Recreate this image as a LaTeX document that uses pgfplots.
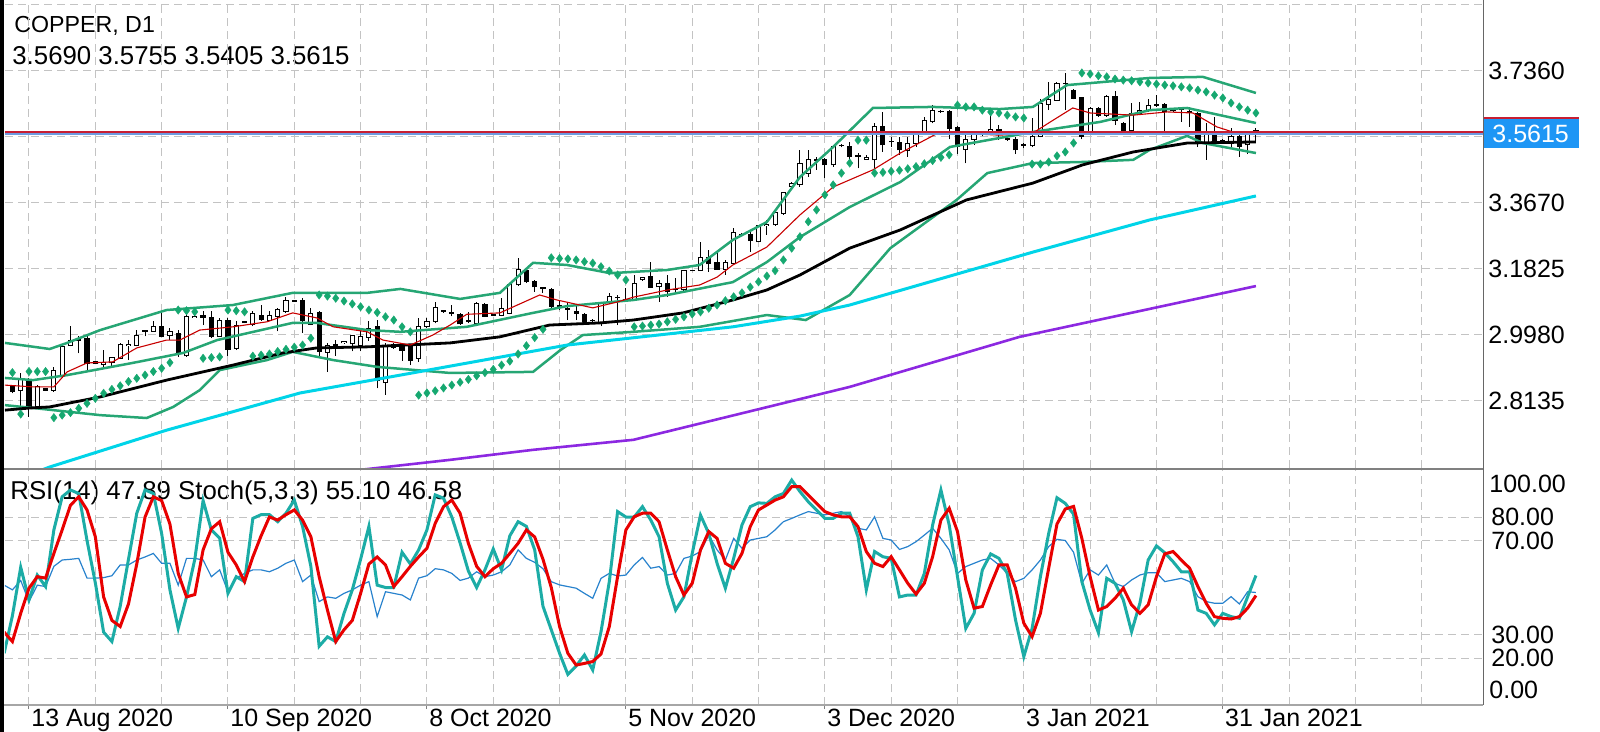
\documentclass[border=0pt]{standalone}
\usepackage{pgfplots}
\pgfplotsset{compat=1.18}
\usepackage{pgfplotstable}
\usepackage{fontspec}
\setmainfont{Liberation Sans}
\newcommand\lbl{\fontsize{12.5}{14}\selectfont}

\definecolor{bbgreen}{RGB}{38,166,116}
\definecolor{sargreen}{RGB}{22,168,112}
\definecolor{stochk}{RGB}{28,172,166}
\definecolor{stochd}{RGB}{232,0,0}
\definecolor{rsiblue}{RGB}{40,130,205}
\definecolor{macyan}{RGB}{0,212,232}
\definecolor{mapurple}{RGB}{140,40,225}
\definecolor{mared}{RGB}{200,0,0}
\definecolor{gridgray}{RGB}{195,195,195}
\definecolor{pricebox}{RGB}{30,150,245}
\definecolor{askred}{RGB}{200,30,50}
\definecolor{bidblue}{RGB}{110,155,225}

% daily candles, bar 0 = 13 Aug 2020
\pgfplotstableread{
i O H L C
-2 2.853 2.857 2.834 2.839
-1 2.843 2.890 2.797 2.876
0 2.871 2.876 2.769 2.792
1 2.792 2.856 2.790 2.853
2 2.848 2.850 2.840 2.842
3 2.843 2.909 2.839 2.899
4 2.881 2.969 2.876 2.965
5 2.969 3.021 2.965 2.983
6 2.988 2.993 2.946 2.983
7 2.988 2.993 2.899 2.918
8 2.923 2.925 2.915 2.918
9 2.915 2.955 2.909 2.920
10 2.920 2.937 2.909 2.934
11 2.932 2.975 2.930 2.971
12 2.967 2.983 2.927 2.970
13 2.969 3.011 2.965 2.997
14 3.008 3.011 2.993 3.010
15 3.008 3.035 3.007 3.021
16 3.021 3.058 2.991 2.994
17 2.997 3.016 2.983 3.008
18 3.002 3.011 2.937 2.946
19 2.939 3.053 2.937 3.050
20 3.047 3.053 3.045 3.050
21 3.051 3.063 3.025 3.047
22 3.047 3.063 2.988 2.993
23 2.994 3.044 2.993 3.039
24 3.037 3.044 2.939 2.957
25 2.960 3.035 2.955 3.025
26 3.032 3.037 3.030 3.034
27 3.027 3.063 3.021 3.058
28 3.053 3.081 3.037 3.041
29 3.039 3.063 3.035 3.053
30 3.050 3.072 3.007 3.069
31 3.063 3.104 3.058 3.095
32 3.093 3.095 3.090 3.092
33 3.093 3.100 3.004 3.037
34 3.027 3.072 3.025 3.058
35 3.060 3.063 2.937 2.951
36 2.949 2.974 2.895 2.969
37 2.969 2.983 2.939 2.971
38 2.975 2.981 2.972 2.978
39 2.972 2.997 2.951 2.997
40 2.969 3.007 2.951 2.994
41 2.991 3.035 2.981 3.016
42 3.021 3.039 2.848 2.871
43 2.864 2.974 2.830 2.969
44 2.971 2.974 2.958 2.963
45 2.969 2.974 2.925 2.955
46 2.965 2.969 2.913 2.927
47 2.932 3.044 2.921 3.021
48 3.021 3.044 3.016 3.035
49 3.035 3.090 3.030 3.075
50 3.063 3.068 3.060 3.065
51 3.060 3.081 3.049 3.057
52 3.055 3.058 3.025 3.028
53 3.038 3.062 3.030 3.036
54 3.028 3.090 3.021 3.086
55 3.083 3.086 3.047 3.050
56 3.052 3.057 3.049 3.054
57 3.053 3.100 3.049 3.072
58 3.058 3.140 3.055 3.137
59 3.137 3.212 3.134 3.179
60 3.177 3.180 3.142 3.146
61 3.146 3.151 3.118 3.132
62 3.129 3.132 3.114 3.127
63 3.123 3.128 3.072 3.077
64 3.081 3.095 3.067 3.075
65 3.069 3.086 3.039 3.070
66 3.064 3.077 3.039 3.058
67 3.055 3.060 3.032 3.035
68 3.037 3.041 3.030 3.038
69 3.028 3.090 3.022 3.086
70 3.088 3.114 3.084 3.104
71 3.103 3.109 3.025 3.102
72 3.097 3.128 3.090 3.095
73 3.097 3.165 3.095 3.142
74 3.151 3.160 3.149 3.158
75 3.160 3.202 3.128 3.131
76 3.132 3.151 3.090 3.142
77 3.142 3.165 3.104 3.118
78 3.125 3.156 3.114 3.124
79 3.123 3.179 3.118 3.177
80 3.177 3.180 3.175 3.178
81 3.177 3.258 3.176 3.214
82 3.214 3.235 3.174 3.196
83 3.200 3.235 3.179 3.181
84 3.181 3.207 3.165 3.200
85 3.198 3.295 3.196 3.284
86 3.277 3.281 3.274 3.278
87 3.279 3.286 3.230 3.261
88 3.258 3.305 3.256 3.302
89 3.303 3.319 3.277 3.307
90 3.305 3.342 3.303 3.339
91 3.337 3.398 3.333 3.395
92 3.412 3.425 3.409 3.421
93 3.417 3.515 3.412 3.477
94 3.449 3.515 3.440 3.487
95 3.487 3.496 3.459 3.484
96 3.487 3.491 3.435 3.473
97 3.473 3.529 3.468 3.524
98 3.526 3.531 3.522 3.528
99 3.524 3.538 3.473 3.496
100 3.497 3.505 3.463 3.498
101 3.489 3.501 3.487 3.494
102 3.487 3.589 3.449 3.580
103 3.580 3.622 3.510 3.529
104 3.538 3.552 3.524 3.537
105 3.535 3.552 3.501 3.515
106 3.513 3.552 3.496 3.533
107 3.533 3.566 3.524 3.559
108 3.559 3.608 3.557 3.598
109 3.594 3.640 3.589 3.626
110 3.621 3.625 3.619 3.622
111 3.622 3.626 3.544 3.575
112 3.577 3.582 3.503 3.524
113 3.517 3.561 3.477 3.544
114 3.544 3.566 3.529 3.563
115 3.557 3.568 3.555 3.566
116 3.563 3.612 3.561 3.572
117 3.573 3.584 3.543 3.557
118 3.545 3.550 3.540 3.546
119 3.544 3.550 3.503 3.515
120 3.527 3.533 3.519 3.529
121 3.526 3.603 3.522 3.552
122 3.552 3.656 3.550 3.645
123 3.643 3.706 3.626 3.656
124 3.654 3.706 3.653 3.701
125 3.700 3.729 3.626 3.701
126 3.680 3.684 3.656 3.659
127 3.662 3.664 3.544 3.552
128 3.561 3.636 3.559 3.631
129 3.631 3.636 3.608 3.612
130 3.612 3.668 3.608 3.664
131 3.664 3.680 3.584 3.598
132 3.589 3.594 3.557 3.561
133 3.569 3.645 3.566 3.617
134 3.617 3.650 3.612 3.626
135 3.626 3.656 3.622 3.638
136 3.640 3.668 3.636 3.641
137 3.643 3.645 3.561 3.622
138 3.626 3.630 3.622 3.627
139 3.628 3.631 3.594 3.627
140 3.622 3.636 3.580 3.619
141 3.617 3.622 3.524 3.538
142 3.533 3.589 3.487 3.566
143 3.566 3.608 3.530 3.533
144 3.540 3.545 3.536 3.538
145 3.533 3.575 3.519 3.552
146 3.552 3.561 3.496 3.524
147 3.529 3.557 3.503 3.560
148 3.5690 3.5755 3.5405 3.5615
}\candles

% parabolic SAR
\pgfplotstableread{
i sar
-2 2.892
-1 2.776
0 2.895
1 2.895
2 2.895
3 2.766
4 2.773
5 2.780
6 2.792
7 2.806
8 2.820
9 2.834
10 2.845
11 2.855
12 2.867
13 2.876
14 2.885
15 2.895
16 2.904
17 2.920
18 3.067
19 3.065
20 3.062
21 2.932
22 2.934
23 2.936
24 3.067
25 3.065
26 3.062
27 2.938
28 2.941
29 2.944
30 2.951
31 2.957
32 2.963
33 2.969
34 2.988
35 3.109
36 3.106
37 3.100
38 3.092
39 3.084
40 3.076
41 3.067
42 3.060
43 3.048
44 3.039
45 3.020
46 3.006
47 2.829
48 2.835
49 2.841
50 2.849
51 2.857
52 2.865
53 2.873
54 2.883
55 2.892
56 2.901
57 2.913
58 2.924
59 2.944
60 2.967
61 2.990
62 3.013
63 3.213
64 3.211
65 3.210
66 3.207
67 3.202
68 3.198
69 3.188
70 3.176
71 3.165
72 3.151
73 3.020
74 3.022
75 3.025
76 3.028
77 3.034
78 3.041
79 3.048
80 3.056
81 3.062
82 3.072
83 3.081
84 3.093
85 3.104
86 3.115
87 3.131
88 3.146
89 3.162
90 3.177
91 3.207
92 3.240
93 3.272
94 3.314
95 3.347
96 3.389
97 3.417
98 3.450
99 3.478
100 3.542
101 3.542
102 3.450
103 3.452
104 3.455
105 3.458
106 3.462
107 3.468
108 3.476
109 3.485
110 3.494
111 3.501
112 3.640
113 3.635
114 3.635
115 3.626
116 3.621
117 3.618
118 3.612
119 3.607
120 3.604
121 3.475
122 3.475
123 3.481
124 3.498
125 3.509
126 3.534
127 3.730
128 3.727
129 3.722
130 3.719
131 3.713
132 3.710
133 3.708
134 3.705
135 3.702
136 3.699
137 3.696
138 3.694
139 3.691
140 3.688
141 3.682
142 3.677
143 3.668
144 3.660
145 3.646
146 3.635
147 3.626
148 3.618
}\sar

% RSI(14) and Stoch(5,3,3) %K, %D
\pgfplotstableread{
i K D RSI
-3 22 31 51
-2 38 27 49
-1 58.6 39 53
0 44.7 49.7 44
1 55.3 54.6 51
2 50.4 54 50.4
3 74.5 64.5 59
4 88.6 74.5 61.7
5 91.5 85 62
6 90 88.6 62.4
7 70 83 54
8 52 71.6 54
9 31 46 54.2
10 27 36 55
11 42 33.4 59.6
12 62 43 59.6
13 81.6 60 61.7
14 91.5 80 63
15 90 88.6 64.5
16 73 87 60.3
17 49 77 60.3
18 32.6 56 51
19 46 46 62.4
20 62 47 62.4
21 87 66 61.7
22 74.5 75 54.6
23 71 78 57.5
24 47.5 65 48.2
25 54.6 59.6 54
26 52.5 52.5 56
27 79.4 63 57.5
28 81 72 57.5
29 81 80 56.7
30 78 78.7 58.2
31 81.6 81 60.3
32 87.2 83 61.7
33 76 78.7 52.5
34 59 71.6 55.3
35 25 54.6 44
36 29 40.4 46
37 27 27 45.4
38 39 32 47.5
39 49 36 49
40 62 47.5 51
41 76 60 52.5
42 51 63 37.6
43 50 59.6 48.2
44 50 50.4 47.5
45 65 54.6 46.8
46 60 59 44.7
47 66 63 54
48 74.5 66.7 55
49 89.4 77.3 58
50 88 84.4 57.5
51 80 87.2 56
52 69 81.6 53
53 57 68.8 54
54 50 59 56.7
55 57.5 54.6 54.6
56 66.4 58 55.3
57 57.5 60.3 56.7
58 72 64.5 59.6
59 78 68.8 66
60 76 74.5 62.4
61 66 71.5 60.7
62 42 62 58
63 32 50 52.5
64 22 33.4 51.1
65 13 22 50.4
66 16.6 17 49.7
67 21.3 17.7 47.5
68 14.9 18.5 45.4
69 31.2 21.7 53.9
70 52.5 33.4 56
71 82.3 54.6 54.9
72 80 74.5 55.3
73 80 80.1 59.6
74 84.4 81.6 62.8
75 78.7 81.6 58.2
76 71.6 78 58.9
77 51.8 66 55.3
78 40.4 54.6 56
79 46 46.8 62.4
80 64.5 51.8 63.4
81 80.8 66 65.3
82 73 73.8 72.3
83 60.3 70.9 66
84 49.7 60.3 61.7
85 62.4 58.2 70.9
86 76.6 64.5 66.7
87 84.4 75.9 70.2
88 86 83 70.9
89 85.8 85.1 71.6
90 88.6 87.2 74.5
91 90 88.6 78
92 95.7 92.9 79.4
93 90.8 92.9 80.9
94 86.5 89.4 82.3
95 83 85.8 81.6
96 79.4 82.3 80.9
97 79.4 80.9 81.6
98 81.6 80.1 82.3
99 81.6 80.1 80.1
100 71.6 75.9 75.2
101 49 65.3 74.5
102 65.3 60.3 80.1
103 63.1 58.9 70.9
104 62.4 63.1 70.2
105 46 57.5 66.2
106 46.8 51.8 67.4
107 46.8 47.2 69.5
108 56 51.8 72.3
109 76.6 63.1 75.2
110 91.5 78.7 70.9
111 76.6 83.7 66
112 54.6 73.8 56
113 32.6 53.2 58.9
114 39 41.2 60.3
115 57.5 41.9 61.7
116 64.3 51.1 62.4
117 62.4 59.6 59.6
118 56 59.6 56
119 36.2 49.7 52.5
120 20.6 34.8 53.9
121 32.6 29.1 57.5
122 54.6 39 61.7
123 73 58.2 67.4
124 88.2 77 70.5
125 85.8 83.4 70
126 81.2 84.5 65
127 52.5 70.9 51.8
128 40.4 54.6 57.5
129 30.8 40.4 55.3
130 53.9 41.9 59.6
131 51.8 45.4 51.8
132 44.7 49.7 50.4
133 31.2 42.6 53.2
134 43.3 39 55.3
135 61.7 42.6 56.3
136 67.7 54.6 56.3
137 64.8 64.3 52.5
138 61 65.3 53.2
139 56.7 61.7 53.9
140 56.7 58.2 52.5
141 40.4 50.4 46.1
142 39 43.3 44
143 34.1 37.6 43.3
144 39 36.9 43.3
145 37.6 36.6 46.1
146 36.9 37.6 43
147 46.1 41.2 48.2
148 55.10 46.58 47.89
}\osc

\pgfplotsset{
  candle part/.style 2 args={forget plot, draw=none, mark=none,
    error bars/.cd, y dir=plus, y explicit, error mark=none,
    error bar style={draw=#1, solid, line width=#2}},
}

\begin{document}
\begin{tikzpicture}

% titles (drawn first, lines go over them)
\begin{scope}[x=0.5pt,y=-0.5pt]
\node[anchor=base west, inner sep=0pt, font=\fontsize{11.6}{14}\selectfont] at (14,33) {COPPER, D1};
\node[anchor=base west, inner sep=0pt, font=\fontsize{12.9}{14}\selectfont] at (12,65) {3.5690 3.5755 3.5405 3.5615};
\node[anchor=base west, inner sep=0pt, font=\fontsize{12.9}{14}\selectfont] at (10,499) {RSI(14) 47.89 Stoch(5,3,3) 55.10 46.58};
\end{scope}

% ---------- price panel ----------
\begin{axis}[
  at={(2.5pt,0pt)}, anchor=north west,
  scale only axis, width=739pt, height=234pt,
  xmin=-2.895, xmax=175.39, ymin=2.6252, ymax=3.934,
  axis line style={draw=none},
  xtick={0,8,...,168}, xticklabels={},
  ytick={2.8135,2.998,3.1825,3.367,3.5515,3.736,3.9205},
  yticklabels={2.8135,2.9980,3.1825,3.3670,{},3.7360,{}},
  scaled y ticks=false,
  ytick pos=right, yticklabel pos=right,
  major tick length=0pt,
  grid=major,
  grid style={gridgray, line width=0.5pt, dash pattern=on 4pt off 2.5pt},
  yticklabel style={anchor=west, inner sep=0pt, xshift=2.5pt},
  tick label style={font=\lbl},
]
% wicks
\addplot [candle part={black}{0.5pt}]
  table [x=i, y=L, y error plus expr=\thisrow{H}-\thisrow{L}] \candles;
% bodies: black outline
\addplot [candle part={black}{2.6pt}]
  table [x=i, y expr={min(\thisrow{O},\thisrow{C})-0.0014},
         y error plus expr={abs(\thisrow{C}-\thisrow{O})+0.0028}] \candles;
% bodies: white fill for rising days
\addplot [candle part={white}{1.6pt}]
  table [x=i, y expr={\thisrow{O}+0.0014},
         y error plus expr={max(0,\thisrow{C}-\thisrow{O}-0.0028)}] \candles;

% Bollinger bands
\addplot [bbgreen, line width=1.25pt] coordinates {
(-2.9,2.975) (2.5,2.958) (4.6,2.975) (8.6,3.011) (16.6,3.067) (24.6,3.081) (31.8,3.115) (40.8,3.115) (44.8,3.126) (52.0,3.098) (56.8,3.115) (60.8,3.199) (64.9,3.193) (70.1,3.170) (77.0,3.179) (80.9,3.193) (84.9,3.263) (89.0,3.313) (93.0,3.439) (97.0,3.523) (101.8,3.632) (109.0,3.635) (117.1,3.629) (121.1,3.635) (125.2,3.696) (135.2,3.716) (141.6,3.719) (148,3.674)};
\addplot [bbgreen, line width=1.25pt] coordinates {
(-2.9,2.877) (0.5,2.871) (4.6,2.885) (12.5,2.919) (18.6,2.947) (22.7,2.983) (31.8,3.031) (34.7,3.031) (40.8,3.011) (44.8,3.006) (52.8,3.020) (60.8,3.059) (64.9,3.078) (72.9,3.095) (77.0,3.109) (84.9,3.145) (89.0,3.201) (93.0,3.271) (99.0,3.355) (105.1,3.425) (111.1,3.523) (121.1,3.565) (129.2,3.593) (135.2,3.626) (139.7,3.632) (148,3.590)};
\addplot [bbgreen, line width=1.25pt] coordinates {
(-2.9,2.801) (0.5,2.793) (8.6,2.773) (14.2,2.765) (17.4,2.796) (20.6,2.843) (23.0,2.899) (28.7,2.927) (31.8,2.950) (36.7,2.927) (42.0,2.908) (50.8,2.891) (60.8,2.894) (64.1,2.955) (66.8,2.997) (72.9,3.006) (80.9,3.020) (89.0,3.053) (93.7,3.039) (99.0,3.109) (103.9,3.240) (111.9,3.375) (115.6,3.450) (121.1,3.478) (127.1,3.481) (133.2,3.487) (135.2,3.515) (139.7,3.554) (141.6,3.534) (148,3.506)};

% moving averages
\addplot [mapurple, line width=1.3pt] coordinates {
(38,2.615) (50.8,2.648) (60.8,2.676) (72.9,2.704) (84.9,2.772) (99.0,2.852) (119.5,2.992) (148,3.134)};
\addplot [macyan, line width=1.5pt] coordinates {
(1.0,2.615) (2.5,2.628) (16.6,2.731) (32.7,2.835) (44.8,2.885) (64.9,2.969) (84.9,3.020) (93.0,3.050) (99.0,3.081) (121.1,3.229) (135.2,3.319) (148,3.386)};
\addplot [black, line width=1.4pt] coordinates {
(-2.9,2.787) (0.1,2.793) (2.5,2.796) (8.6,2.824) (16.6,2.871) (24.6,2.913) (30.6,2.947) (34.7,2.961) (40.8,2.964) (50.8,2.975) (56.8,2.992) (62.8,3.025) (68.9,3.031) (72.9,3.039) (78.9,3.059) (84.9,3.095) (89.0,3.123) (93.0,3.165) (99.0,3.240) (105.1,3.291) (113.1,3.375) (121.1,3.422) (127.1,3.473) (133.2,3.509) (139.7,3.534) (148,3.537)};
\addplot [mared, line width=0.55pt] coordinates {
(-2.9,2.857) (0.5,2.852) (3.0,2.852) (4.6,2.894) (7.0,2.919) (10.1,2.922) (13.0,2.961) (16.6,2.983) (18.2,2.983) (20.6,3.011) (24.6,3.020) (28.7,3.034) (31.8,3.059) (34.7,3.045) (36.7,3.020) (40.8,3.006) (42.7,2.983) (46.0,2.969) (48.7,2.997) (50.8,3.025) (52.8,3.055) (56.8,3.059) (61.6,3.109) (63.7,3.095) (68.0,3.073) (70.9,3.089) (72.9,3.103) (77.0,3.123) (80.9,3.137) (83.0,3.159) (84.9,3.193) (89.0,3.243) (93.0,3.333) (97.0,3.411) (101.8,3.459) (105.1,3.506) (109.9,3.565) (111.9,3.562) (117.1,3.556) (121.1,3.562) (123.2,3.593) (125.9,3.632) (128.0,3.618) (133.2,3.612) (137.3,3.621) (140.4,3.618) (143.3,3.579) (145.2,3.565) (148,3.562)};

% parabolic SAR
\addplot [only marks, mark=diamond*, mark size=2.1pt,
  mark options={draw=sargreen, fill=sargreen, line width=0.2pt}]
  table [x=i, y=sar] \sar;

% ask / bid lines
\addplot [askred, line width=0.75pt] coordinates {(-2.9,3.5652) (175.4,3.5652)};
\addplot [bidblue, line width=0.75pt] coordinates {(-2.9,3.5596) (175.4,3.5596)};
\end{axis}

% ---------- oscillator panel ----------
\begin{axis}[
  at={(2.5pt,-235pt)}, anchor=north west,
  scale only axis, width=739pt, height=117.5pt,
  xmin=-2.895, xmax=175.39, ymin=0, ymax=100,
  axis line style={draw=none},
  xtick={0,24,...,144},
  xticklabels={13 Aug 2020,10 Sep 2020,8 Oct 2020,5 Nov 2020,3 Dec 2020,3 Jan 2021,31 Jan 2021},
  extra x ticks={8,16,32,40,56,64,80,88,104,112,128,136,152,160,168},
  extra x tick labels={},
  extra x tick style={major tick length=0pt},
  ytick={20,30,70,80},
  yticklabels={20.00,30.00,70.00,80.00},
  ytick pos=right, yticklabel pos=right,
  xtick pos=lower,
  tick align=outside,
  major tick length=2pt,
  ytick style={draw=none},
  xtick style={draw=gray, line width=0.5pt},
  grid=major,
  grid style={gridgray, line width=0.5pt, dash pattern=on 4pt off 2.5pt},
  xticklabel style={anchor=north west, inner sep=0pt, xshift=1pt},
  yticklabel style={anchor=west, inner sep=0pt, xshift=2pt},
  tick label style={font=\lbl},
]
\addplot [rsiblue, line width=0.6pt] table [x=i, y=RSI] \osc;
\addplot [stochk, line width=1.5pt] table [x=i, y=K] \osc;
\addplot [stochd, line width=1.5pt] table [x=i, y=D] \osc;
\end{axis}

% ---------- frame, scale labels, price box ----------
\begin{scope}[x=0.5pt,y=-0.5pt]
\fill[black] (0,0) rectangle (4,732);
\draw[gray, line width=1pt] (4,468.5) -- (1483,468.5);
\draw[gray!70, line width=0.6pt] (4,705) -- (1483,705);
\draw[gray!80!black, line width=0.5pt] (1483,0) -- (1483,705);
\node[anchor=west, inner sep=0pt, font=\lbl] at (1489,483.5) {100.00};
\node[anchor=west, inner sep=0pt, font=\lbl] at (1489,690) {0.00};
\fill[pricebox] (1484,119) rectangle (1579,148);
\draw[askred, line width=1pt] (1484,118) -- (1579,118);
\node[anchor=west, inner sep=0pt, font=\lbl, text=white] at (1492,133.5) {3.5615};
\end{scope}

\pgfresetboundingbox
\path[use as bounding box] (0,0) rectangle (800pt,-366pt);
\end{tikzpicture}
\end{document}
